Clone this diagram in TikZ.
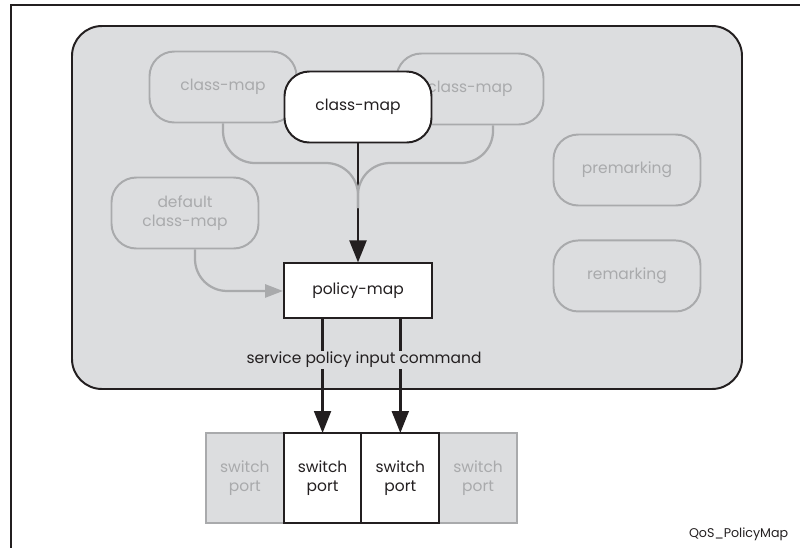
\documentclass[tikz,border=0pt]{standalone}
\usepackage{fontspec}
\setmainfont{Poppins}
\usepackage{xcolor}
\usepackage{tikz}
\usetikzlibrary{arrows.meta, positioning}
\definecolor{bgray}{HTML}{DCDDDF}
\definecolor{lgray}{HTML}{A9AAAC}
\definecolor{dline}{HTML}{231F20}

\begin{document}
\begin{tikzpicture}[font=\fontsize{11}{13}\selectfont]
    \tikzstyle{cmapbox} = [rectangle, draw=dline, line width=1.4pt, fill=white, text=dline, rounded corners=0.62cm, minimum width=3.675cm, minimum height=1.775cm, align=center]
    \tikzstyle{ghost} = [cmapbox, draw=lgray, fill=none, text=lgray]
    \tikzstyle{block} = [rectangle, draw=dline, line width=1.4pt, fill=white, text=dline, minimum width=3.7cm, minimum height=1.375cm]
    \tikzstyle{port} = [rectangle, draw=dline, line width=1.4pt, fill=white, text=dline, minimum width=1.944cm, minimum height=2.25cm, align=center, outer sep=0pt]
    \tikzstyle{gport} = [port, draw=lgray, fill=bgray, text=lgray]
    \tikzstyle{line} = [draw=dline, line width=1.9pt, -{Triangle[length=5.5mm, width=4.2mm]}]
    \tikzstyle{gline} = [draw=lgray, line width=1.6pt, rounded corners=0.8cm]

    \useasboundingbox (0,0) rectangle (20,-13.7);
    % page frame and gray panel
    \draw [dline, line width=1.3pt] (20,-0.125) -- (0.275,-0.125) -- (0.275,-13.7);
    \draw [dline, line width=1.4pt, fill=bgray, rounded corners=0.75cm] (1.8,-0.65) rectangle (18.55,-9.725);

    \node [ghost] (cmapl) at (5.575,-2.175) {class-map};
    \node [ghost] (cmapr) at (11.75,-2.225) {class-map};
    \node [ghost] (defmap) at (4.625,-5.325) {default\\class-map};
    \node [ghost] (premark) at (15.675,-4.25) {premarking};
    \node [ghost, below=0.825cm of premark] (remark) {remarking};
    \node [cmapbox] (cmap) at (8.95,-2.675) {class-map};
    \node [block, below=2.975cm of cmap] (pmap) {policy-map};

    % switch ports
    \node [gport] (sp1) at (6.12,-11.95) {switch\\port};
    \node [gport, right=3.888cm of sp1] (sp4) {switch\\port};
    \node [port, right=0pt of sp1] (sp2) {switch\\port};
    \node [port, right=0pt of sp2] (sp3) {switch\\port};

    \coordinate (hub) at (8.95,-4.075);
    \coordinate (join) at (8.95,-5.2);

    \path [line] (cmap) -- (pmap);
    \path [gline] (cmapl.south) |- (hub) -- (join);
    \path [gline] ([xshift=0.575cm]cmapr.south) |- (hub) -- (join);
    \path [gline, -{Triangle[length=4.5mm, width=3.3mm]}] ([xshift=0.25cm]defmap.south) |- (pmap.west);
    \path [line] (sp2 |- pmap.south) -- (sp2);
    \path [line] (sp3 |- pmap.south) -- (sp3);

    \node [fill=bgray, text=dline, inner sep=1pt] (cmd) at (9.1,-9.0) {service policy input command};
    \node [text=dline, font=\fontsize{9}{11}\selectfont, anchor=east] (figname) at (19.83,-13.35) {QoS\_PolicyMap};
\end{tikzpicture}
\end{document}
